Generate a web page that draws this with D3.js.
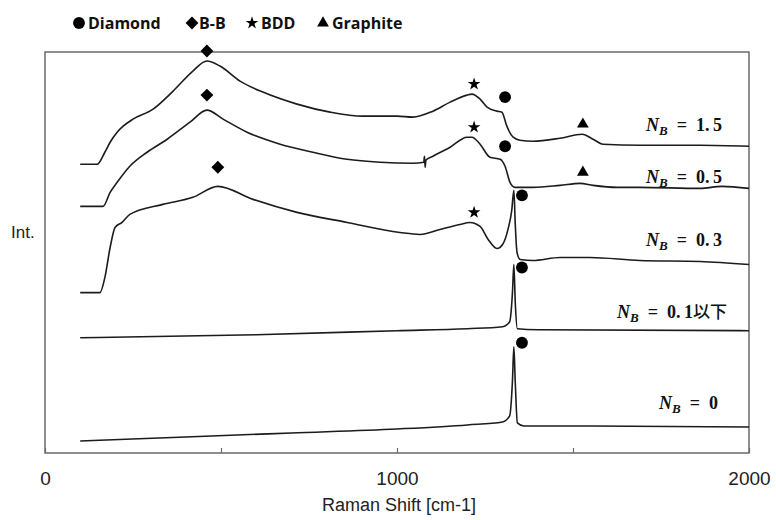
<!DOCTYPE html>
<html>
<head>
<meta charset="utf-8">
<script src="https://cdn.jsdelivr.net/npm/d3@7/dist/d3.min.js"></script>
<style>
  html, body { margin: 0; padding: 0; background: #fff; }
  svg { display: block; }
</style>
</head>
<body>
<svg id="chart" width="776" height="520"></svg>
<script>
// Raman spectra of boron-doped diamond films, stacked by boron content N_B.
// x: Raman shift [cm-1], y: intensity (arbitrary units, offset per spectrum)

const xTicks = [0, 500, 1000, 1500, 2000];
const xTickLabels = ["0", "", "1000", "", "2000"];

const spectrumNB15 = [
  [100, 288], [148, 288], [170, 300], [185, 310], [205, 320], [222, 326], [250, 333],
  [307, 343], [364, 361], [420, 381], [460, 391], [497, 386], [554, 371], [619, 360],
  [716, 348], [810, 340], [903, 336], [1000, 336], [1045, 335], [1102, 341], [1151, 350],
  [1199, 357], [1213, 358], [1236, 353], [1256, 345], [1284, 341], [1298, 340],
  [1312, 326], [1330, 315], [1349, 312], [1386, 311], [1463, 314], [1526, 318],
  [1557, 313], [1585, 308], [1690, 307], [1861, 307], [2000, 306]
];

const spectrumNB05 = [
  [100, 246], [165, 246], [185, 260], [205, 270], [241, 286], [290, 300], [347, 313],
  [412, 330], [460, 342], [506, 333], [574, 320], [668, 308], [761, 300], [858, 293],
  [952, 290], [1045, 289], [1076, 290], [1078, 296], [1080, 285], [1082, 292],
  [1102, 296], [1151, 305], [1199, 315], [1213, 315], [1236, 308], [1264, 295],
  [1293, 293], [1307, 286], [1321, 270], [1335, 265], [1386, 265], [1463, 267],
  [1520, 269], [1557, 267], [1625, 265], [1690, 265], [1861, 264], [1923, 266], [2000, 264]
];

const spectrumNB03 = [
  [100, 160], [156, 160], [170, 175], [185, 205], [199, 225], [219, 230], [241, 238],
  [335, 248], [420, 255], [491, 266], [591, 253], [716, 240], [858, 230], [1008, 220],
  [1065, 218], [1122, 223], [1179, 228], [1207, 230], [1236, 226], [1259, 213],
  [1284, 204], [1300, 208], [1316, 224], [1326, 242], [1332, 262], [1336, 228],
  [1341, 200], [1350, 193], [1386, 192], [1463, 195], [1548, 195], [1690, 192],
  [1861, 191], [2000, 188]
];

const spectrumNB01 = [
  [100, 115], [600, 118], [1000, 122], [1200, 124], [1300, 126], [1320, 131],
  [1328, 160], [1332, 188], [1336, 150], [1342, 124], [1400, 123], [2000, 122]
];

const spectrumNB0 = [
  [100, 12], [400, 16], [700, 20], [1000, 24], [1200, 28], [1300, 31], [1320, 37],
  [1328, 72], [1332, 106], [1336, 70], [1342, 30], [1360, 27], [1500, 27], [2000, 26]
];

const seriesNames = ["1.5", "0.5", "0.3", "0.1", "0"];
const seriesSuffix = ["", "", "", "以下", ""];

// Peak assignment markers [Raman shift, intensity]
const markDiamond = [[1307, 355], [1307, 306], [1355, 257], [1355, 185], [1355, 110]];
const markBB = [[460, 401], [460, 357], [491, 285]];
const markBDD = [[1219, 368], [1219, 325], [1219, 240]];
const markGraphite = [[1528, 328], [1528, 280]];

const legendNames = ["Diamond", "B-B", "BDD", "Graphite"];

const svg = d3.select("#chart");
const margin = { left: 45, right: 27, top: 52, bottom: 67 };
const W = 776, H = 520;

const x = d3.scaleLinear().domain([0, 2000]).range([margin.left, W - margin.right]);
const y = d3.scaleLinear().domain([0, 400]).range([H - margin.bottom, margin.top]);

// plot frame
svg.append("rect")
  .attr("x", x(0)).attr("y", y(400))
  .attr("width", x(2000) - x(0)).attr("height", y(0) - y(400))
  .attr("fill", "none").attr("stroke", "#6a6a6a").attr("stroke-width", 1.5);

// x axis with inward ticks
const xAxis = d3.axisBottom(x)
  .tickValues(xTicks)
  .tickFormat((d, i) => xTickLabels[i])
  .tickSizeInner(-5).tickSizeOuter(0).tickPadding(19);
const gx = svg.append("g").attr("transform", `translate(0,${y(0)})`).call(xAxis);
gx.select(".domain").remove();
gx.selectAll(".tick line").attr("stroke", "#6a6a6a").attr("stroke-width", 1.2);
gx.selectAll(".tick text")
  .attr("font-family", "'Liberation Sans', Arial, sans-serif")
  .attr("font-size", 19).attr("fill", "#222");

svg.append("text")
  .attr("x", (x(0) + x(2000)) / 2 + 2).attr("y", 511)
  .attr("text-anchor", "middle")
  .attr("font-family", "'Liberation Sans', Arial, sans-serif")
  .attr("font-size", 18).attr("fill", "#222")
  .text("Raman Shift [cm-1]");

svg.append("text")
  .attr("x", 11).attr("y", 238)
  .attr("font-family", "'Liberation Sans', Arial, sans-serif")
  .attr("font-size", 17).attr("fill", "#222")
  .text("Int.");

// spectra
const line = d3.line().x(d => x(d[0])).y(d => y(d[1])).curve(d3.curveMonotoneX);
const spectra = [spectrumNB15, spectrumNB05, spectrumNB03, spectrumNB01, spectrumNB0];
svg.append("g").selectAll("path").data(spectra).join("path")
  .attr("d", line)
  .attr("fill", "none")
  .attr("stroke", "#1c1c1c")
  .attr("stroke-width", 1.6)
  .attr("stroke-linejoin", "round");

// peak markers
const symDiamond = d3.symbol().type(d3.symbolCircle).size(110);
const symBB = d3.symbol().type(d3.symbolDiamond2).size(105);
const symBDD = d3.symbol().type(d3.symbolStar).size(50);
const symGraphite = d3.symbol().type(d3.symbolTriangle).size(60);

const markerSets = [
  [markDiamond, symDiamond],
  [markBB, symBB],
  [markBDD, symBDD],
  [markGraphite, symGraphite]
];
markerSets.forEach(([pts, sym]) => {
  svg.append("g").selectAll("path").data(pts).join("path")
    .attr("d", sym())
    .attr("transform", d => `translate(${x(d[0])},${y(d[1])})`)
    .attr("fill", "#000");
});

// legend
const legendSymbolX = [79, 192, 252, 323];
const legendTextX = [88, 199, 261, 332];
const legendSyms = [symDiamond, symBB, symBDD, symGraphite];
const legend = svg.append("g");
legendNames.forEach((name, i) => {
  legend.append("path")
    .attr("d", legendSyms[i]())
    .attr("transform", `translate(${legendSymbolX[i]},23)`)
    .attr("fill", "#000");
  legend.append("text")
    .attr("x", legendTextX[i]).attr("y", 29)
    .attr("font-family", "'Open Sans', 'Noto Sans', sans-serif")
    .attr("font-weight", 700).attr("font-size", 16)
    .attr("fill", "#111")
    .text(name);
});

// N_B labels, right-aligned near the right edge
const labelBaseline = [131, 183, 246, 318, 409];
const labelRight = [722, 722, 722, 727, 718];
const serif = "'Liberation Serif', 'DejaVu Serif', serif";
seriesNames.forEach((v, i) => {
  const t = svg.append("text")
    .attr("x", labelRight[i]).attr("y", labelBaseline[i])
    .attr("text-anchor", "end")
    .attr("font-family", serif)
    .attr("font-weight", 700).attr("font-size", 18)
    .attr("fill", "#111");
  t.append("tspan").attr("font-style", "italic").text("N");
  t.append("tspan").attr("font-style", "italic").attr("font-size", 13).attr("dy", 4).text("B");
  t.append("tspan").attr("dy", -4).text("\u2002=\u2002" + v.replace(".", ".\u2009"));
  if (seriesSuffix[i]) {
    t.append("tspan")
      .attr("font-family", "'Noto Sans CJK JP', sans-serif")
      .attr("font-weight", 500).attr("font-size", 17)
      .text(seriesSuffix[i]);
  }
});
</script>
</body>
</html>
